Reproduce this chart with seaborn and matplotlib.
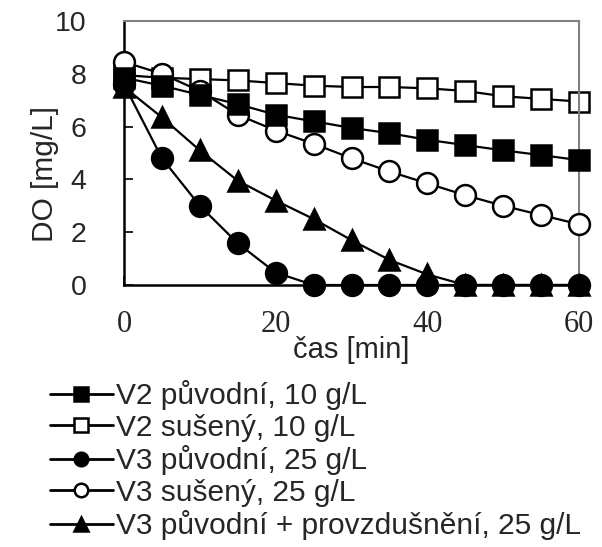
import matplotlib
matplotlib.use("Agg")
import matplotlib.pyplot as plt
import seaborn as sns
import pandas as pd

# ---- data ----
time_min = [0, 5, 10, 15, 20, 25, 30, 35, 40, 45, 50, 55, 60]
v2_puvodni = [7.85, 7.55, 7.2, 6.85, 6.45, 6.2, 5.95, 5.75, 5.5, 5.3, 5.1, 4.92, 4.73]
v2_suseny = [7.95, 7.85, 7.8, 7.75, 7.65, 7.55, 7.5, 7.5, 7.45, 7.35, 7.15, 7.05, 6.95]
v3_puvodni = [7.6, 4.8, 3.0, 1.58, 0.47, 0, 0, 0, 0, 0, 0, 0, 0]
v3_suseny = [8.45, 8.0, 7.35, 6.45, 5.85, 5.35, 4.8, 4.3, 3.85, 3.4, 3.0, 2.65, 2.3]
v3_provzd = [7.5, 6.35, 5.1, 3.95, 3.2, 2.5, 1.7, 0.95, 0.4, 0, 0, 0, 0]

labels = ["V2 původní, 10 g/L", "V2 sušený, 10 g/L", "V3 původní, 25 g/L",
          "V3 sušený, 25 g/L", "V3 původní + provzdušnění, 25 g/L"]
x_ticks = [0, 20, 40, 60]
y_ticks = [0, 2, 4, 6, 8, 10]

sns.set_theme(style="white")
plt.rcParams["font.family"] = ["Liberation Sans", "DejaVu Sans"]

fig = plt.figure(figsize=(6.02, 5.47), dpi=100)
ax = fig.add_axes([124 / 602, 1 - 285 / 547, 455 / 602, 264 / 547])

series = [
    (labels[0], v2_puvodni, "s", "black", 6),
    (labels[1], v2_suseny, "s", "white", 2),
    (labels[2], v3_puvodni, "o", "black", 5),
    (labels[3], v3_suseny, "o", "white", 4),
    (labels[4], v3_provzd, "^", "black", 3),
]

handles = {}
for lab, vals, mk, fc, z in series:
    df = pd.DataFrame({"t": time_min, "DO": vals})
    sns.lineplot(data=df, x="t", y="DO", ax=ax, color="black", linewidth=1.6,
                 marker=mk, markersize=15, markerfacecolor=fc,
                 markeredgecolor="black", markeredgewidth=1.8,
                 zorder=z, clip_on=False, label=lab, legend=False)
    handles[lab] = ax.lines[-1]

ax.set_xlim(0, 60)
ax.set_ylim(0, 10)
ax.set_xticks(x_ticks)
ax.set_yticks(y_ticks)
ax.set_xticklabels([str(v) for v in x_ticks], family=["Liberation Serif", "DejaVu Serif"], fontsize=22)
ax.set_yticklabels([str(v) for v in y_ticks], fontsize=20.5)
ax.tick_params(axis="y", direction="in", length=6.5, width=1.2, color="black", pad=27, left=True)
ax.tick_params(axis="x", direction="in", length=6.5, width=1.2, color="black", pad=18, bottom=True)

for side in ["left", "bottom"]:
    ax.spines[side].set_color("black")
    ax.spines[side].set_linewidth(1.8)
for side in ["top", "right"]:
    ax.spines[side].set_color("#808080")
    ax.spines[side].set_linewidth(1.5)

ax.set_xlabel("čas [min]", fontsize=21)
ax.xaxis.set_label_coords(0.5, (285 - 336) / 264)
ax.xaxis.label.set_va("top")
ax.set_ylabel("DO [mg/L]", fontsize=21.5)
ax.yaxis.set_label_coords((59 - 124) / 455, (285 - 174) / 264)

leg = fig.legend([handles[l] for l in labels], labels, loc="upper left",
                 bbox_to_anchor=(50 / 602, 1 - 380 / 547), frameon=False,
                 fontsize=21.5, borderpad=0, handlelength=2.1, handletextpad=0.12,
                 labelspacing=0.12, markerscale=0.65, borderaxespad=0)
for h in leg.legend_handles:
    h.set_linewidth(2.0)

fig.savefig("out.png", dpi=100)
